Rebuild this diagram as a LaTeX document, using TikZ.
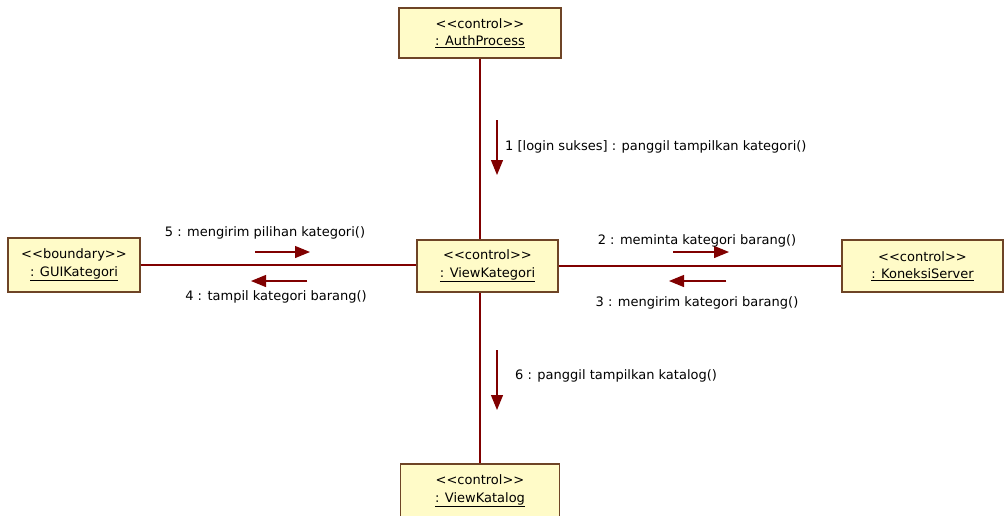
\documentclass[tikz,border=0pt]{standalone}
\usepackage{fontspec}
\newfontfamily\umlfont{DejaVu Sans}
\usetikzlibrary{arrows.meta}
\definecolor{wire}{HTML}{800000}
\definecolor{boxedge}{HTML}{6E4426}
\definecolor{boxfill}{HTML}{FFFBC8}
\begin{document}
\begin{tikzpicture}[x=1pt,y=-1pt,
  obj/.style={draw=boxedge, fill=boxfill, line width=1.2pt, align=center,
    inner sep=0pt, font=\umlfont\fontsize{13}{17.5}\selectfont},
  link/.style={draw=wire, line width=1.1pt},
  msg/.style={draw=wire, line width=1.2pt, fill=wire,
    -{Triangle[length=15pt,width=12pt]}},
  lbl/.style={font=\umlfont\fontsize{13}{15}\selectfont, inner sep=0pt}]
\useasboundingbox (0,0) rectangle (1006,515);

% objects
\node[obj, minimum width=162pt, minimum height=50pt] (auth) at (480,33)
  {<<control>>\\\underline{: AuthProcess}};
\node[obj, minimum width=132pt, minimum height=54pt] (gui) at (74,265)
  {<<boundary>>\\\underline{: GUIKategori}};
\node[obj, minimum width=141pt, minimum height=52pt] (vk) at (487.5,266)
  {<<control>>\\\underline{: ViewKategori}};
\node[obj, minimum width=161pt, minimum height=52pt] (ks) at (922.5,266)
  {<<control>>\\\underline{: KoneksiServer}};
\node[obj, minimum width=159pt, minimum height=54pt] (vkat) at (480,491)
  {<<control>>\\\underline{: ViewKatalog}};

% links
\draw[link] (auth.south) -- (auth.south |- vk.north);
\draw[link] (vkat.north) -- (vkat.north |- vk.south);
\draw[link] (gui.east) -- (gui.east -| vk.west);
\draw[link] (vk.east) -- (vk.east -| ks.west);

% message 1
\coordinate (m1s) at (497,120);
\coordinate (m1e) at (497,175);
\draw[msg] (m1s) -- (m1e);
\node[lbl, anchor=west] (l1) at (505,147)
  {1 [login sukses] : panggil tampilkan kategori()};

% message 5
\coordinate (m5s) at (255,252);
\coordinate (m5e) at (310,252);
\draw[msg] (m5s) -- (m5e);
\node[lbl] (l5) at (265,233) {5 : mengirim pilihan kategori()};

% message 4
\coordinate (m4s) at (307,281);
\coordinate (m4e) at (251,281);
\draw[msg] (m4s) -- (m4e);
\node[lbl] (l4) at (276,297) {4 : tampil kategori barang()};

% message 2
\coordinate (m2s) at (673,252);
\coordinate (m2e) at (729,252);
\draw[msg] (m2s) -- (m2e);
\node[lbl] (l2) at (697,241) {2 : meminta kategori barang()};

% message 3
\coordinate (m3s) at (726,281);
\coordinate (m3e) at (669,281);
\draw[msg] (m3s) -- (m3e);
\node[lbl] (l3) at (697,303) {3 : mengirim kategori barang()};

% message 6
\coordinate (m6s) at (497,350);
\coordinate (m6e) at (497,410);
\draw[msg] (m6s) -- (m6e);
\node[lbl, anchor=west] (l6) at (515,376) {6 : panggil tampilkan katalog()};
\end{tikzpicture}
\end{document}
